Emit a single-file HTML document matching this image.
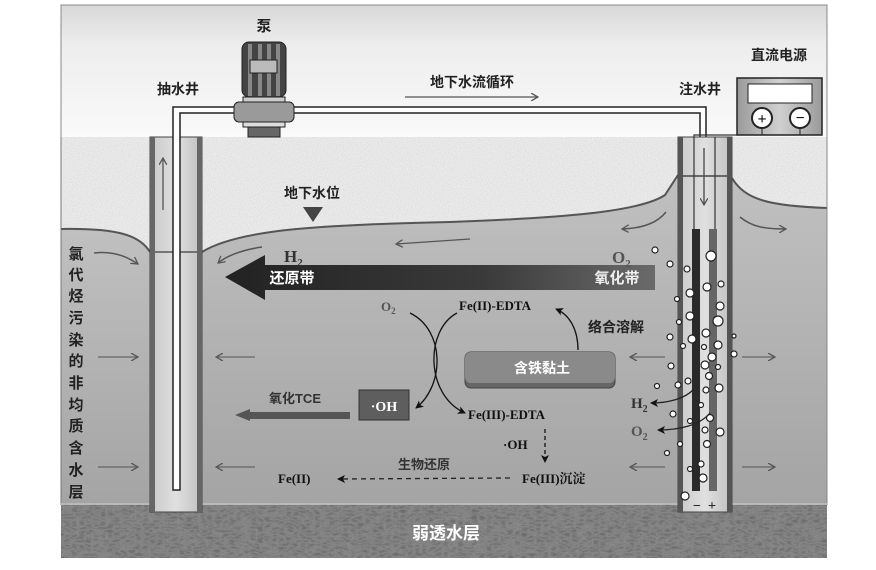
<!DOCTYPE html>
<html><head><meta charset="utf-8"><style>
html,body{margin:0;padding:0;background:#fff;}
svg{display:block;}
text{font-family:"Liberation Serif","Noto Serif CJK SC","Noto Sans CJK SC",serif;font-weight:bold;}
.cjk{font-family:"Liberation Sans","Noto Sans CJK SC",sans-serif;}
</style></head><body>
<svg width="876" height="570" viewBox="0 0 876 570" xmlns="http://www.w3.org/2000/svg">
<defs>
<linearGradient id="sky" x1="0" y1="0" x2="0" y2="1"><stop offset="0" stop-color="#d8d8d8"/><stop offset="0.3" stop-color="#ededed"/><stop offset="1" stop-color="#fafafa"/></linearGradient>
<linearGradient id="sat" x1="0" y1="0" x2="0" y2="1"><stop offset="0" stop-color="#c0c0c0"/><stop offset="1" stop-color="#a4a4a4"/></linearGradient>
<linearGradient id="arrow" x1="0" y1="0" x2="1" y2="0"><stop offset="0" stop-color="#222"/><stop offset="0.6" stop-color="#3a3a3a"/><stop offset="1" stop-color="#6a6a6a"/></linearGradient>
<linearGradient id="well" x1="0" y1="0" x2="1" y2="0"><stop offset="0" stop-color="#c8c8c8"/><stop offset="0.5" stop-color="#e0e0e0"/><stop offset="1" stop-color="#c0c0c0"/></linearGradient>
<linearGradient id="psu" x1="0" y1="0" x2="1" y2="0"><stop offset="0" stop-color="#9a9a9a"/><stop offset="0.5" stop-color="#d0d0d0"/><stop offset="1" stop-color="#9a9a9a"/></linearGradient>
<filter id="speck" x="0" y="0" width="100%" height="100%"><feTurbulence type="fractalNoise" baseFrequency="1.2" numOctaves="1" seed="3"/><feColorMatrix values="0.35 0 0 0 0.62 0.35 0 0 0 0.62 0.35 0 0 0 0.62 0 0 0 0 1"/><feComposite in2="SourceGraphic" operator="in"/></filter>
<filter id="rock" x="0" y="0" width="100%" height="100%"><feTurbulence type="turbulence" baseFrequency="0.14 0.3" numOctaves="3" seed="7"/><feColorMatrix values="0 0 0 0 0.15 0 0 0 0 0.15 0 0 0 0 0.15 1.4 0 0 0 0"/><feComposite in2="SourceGraphic" operator="in"/></filter>
<marker id="ah" markerWidth="8" markerHeight="8" refX="7" refY="4" orient="auto" markerUnits="userSpaceOnUse"><path d="M0,0 L7,4 L0,8" fill="none" stroke="#555" stroke-width="1.3"/></marker>
<marker id="ahk" markerWidth="8" markerHeight="8" refX="7" refY="4" orient="auto" markerUnits="userSpaceOnUse"><path d="M0,0 L8,4 L0,8 L2,4z" fill="#111"/></marker>
</defs>

<rect x="60" y="5" width="768" height="555" fill="#fff"/>
<rect x="61" y="5" width="766" height="133" fill="url(#sky)" stroke="#888" stroke-width="1"/>
<rect x="61" y="137" width="766" height="368" fill="#ccc" filter="url(#speck)"/>
<path d="M61,229 C120,228 140,236 150,252 L150,505 L61,505Z" fill="url(#sat)"/>
<path d="M202,252 C240,228 330,225 450,222 C560,218 640,212 665,195 L678,175 L678,505 L202,505Z" fill="url(#sat)"/>
<path d="M732,178 C745,200 770,206 827,208 L827,505 L732,505Z" fill="url(#sat)"/>
<path d="M61,229 C120,228 140,236 150,252" fill="none" stroke="#555" stroke-width="2"/>
<path d="M202,252 C240,228 330,225 450,222 C560,218 640,212 665,195 L678,175" fill="none" stroke="#555" stroke-width="2"/>
<path d="M732,178 C745,200 770,206 827,208" fill="none" stroke="#555" stroke-width="2"/>
<line x1="61" y1="137" x2="61" y2="505" stroke="#777"/><line x1="827" y1="137" x2="827" y2="505" stroke="#888"/>
<rect x="61" y="503" width="766" height="55" fill="#8c8c8c"/>
<rect x="61" y="503" width="766" height="55" fill="#888" filter="url(#rock)"/>
<line x1="61" y1="504" x2="827" y2="504" stroke="#ccc" stroke-width="1.5"/>
<text x="446" y="539" class="cjk" font-size="17" fill="#fff" text-anchor="middle">弱透水层</text>

<rect x="150" y="137" width="52" height="375" fill="url(#well)" stroke="#444" stroke-width="1"/>
<rect x="150" y="137" width="5" height="375" fill="#666"/>
<rect x="197" y="137" width="5" height="375" fill="#666"/>
<line x1="155" y1="252" x2="197" y2="252" stroke="#555" stroke-width="1.5"/>
<line x1="163" y1="210" x2="163" y2="158" stroke="#555" stroke-width="1.3" marker-end="url(#ah)"/>
<path d="M173,490 L173,107 L706,107 L706,142 L700,142 L700,113 L180,113 L180,490Z" fill="#fff" stroke="#222" stroke-width="1.5"/>

<text x="264" y="31" class="cjk" font-size="15" fill="#222" text-anchor="middle">泵</text>
<rect x="242" y="42" width="44" height="55" rx="7" fill="#444" stroke="#222"/>
<rect x="248" y="44" width="4" height="52" fill="#888"/><rect x="258" y="44" width="4" height="52" fill="#888"/><rect x="267" y="44" width="4" height="52" fill="#888"/><rect x="276" y="44" width="4" height="52" fill="#888"/>
<rect x="250" y="60" width="27" height="13" fill="#bbb" stroke="#222"/>
<rect x="243" y="97" width="42" height="5" fill="#ccc" stroke="#222"/>
<rect x="234" y="102" width="60" height="20" rx="5" fill="#9a9a9a" stroke="#222"/>
<rect x="243" y="122" width="42" height="5" fill="#ddd" stroke="#222"/>
<rect x="248" y="127" width="32" height="10" fill="#666" stroke="#222"/>

<text x="178" y="94" class="cjk" font-size="14" fill="#222" text-anchor="middle">抽水井</text>
<text x="472" y="87" class="cjk" font-size="14" fill="#222" text-anchor="middle">地下水流循环</text>
<line x1="405" y1="97" x2="538" y2="97" stroke="#555" stroke-width="1.3" marker-end="url(#ah)"/>
<text x="700" y="94" class="cjk" font-size="14" fill="#222" text-anchor="middle">注水井</text>
<text x="779" y="60" class="cjk" font-size="14" fill="#222" text-anchor="middle">直流电源</text>

<rect x="737" y="78" width="85" height="57" fill="url(#psu)" stroke="#222" stroke-width="1.5"/>
<rect x="748" y="84" width="64" height="19" fill="#fff" stroke="#222"/>
<circle cx="762" cy="118" r="10" fill="#fff" stroke="#222" stroke-width="2"/><text x="762" y="124" font-size="16" text-anchor="middle" fill="#111">+</text>
<circle cx="800" cy="118" r="10" fill="#fff" stroke="#222" stroke-width="2"/><text x="800" y="123" font-size="16" text-anchor="middle" fill="#111">−</text>
<line x1="762" y1="128" x2="762" y2="135" stroke="#222"/><line x1="800" y1="128" x2="800" y2="135" stroke="#222"/>

<rect x="678" y="137" width="54" height="375" fill="url(#well)" stroke="#444" stroke-width="1"/>
<rect x="678" y="137" width="5" height="375" fill="#555"/>
<rect x="727" y="137" width="5" height="375" fill="#555"/>
<line x1="683" y1="176" x2="727" y2="176" stroke="#444" stroke-width="1.5"/>
<path d="M694,229 L694,135 L737,135" fill="none" stroke="#333" stroke-width="1.2"/>
<line x1="715" y1="229" x2="715" y2="137" stroke="#333" stroke-width="1.2"/>
<line x1="704" y1="148" x2="704" y2="205" stroke="#444" stroke-width="1.3" marker-end="url(#ah)"/>
<rect x="692" y="229" width="8" height="262" fill="#2a2a2a"/>
<rect x="709" y="229" width="8" height="262" fill="#666"/>
<text x="697" y="510" font-size="14" fill="#222" text-anchor="middle">−</text>
<text x="712" y="510" font-size="14" fill="#222" text-anchor="middle">+</text>
<g fill="#fff" stroke="#222" stroke-width="1.2">
<circle cx="655" cy="250" r="3"/><circle cx="670" cy="264" r="3"/><circle cx="687" cy="269" r="3"/><circle cx="711" cy="256" r="5"/>
<circle cx="690" cy="293" r="4"/><circle cx="707" cy="287" r="4"/><circle cx="721" cy="284" r="3"/><circle cx="677" cy="299" r="2.5"/>
<circle cx="690" cy="316" r="4"/><circle cx="720" cy="306" r="4"/><circle cx="718" cy="321" r="5"/><circle cx="679" cy="322" r="2.5"/>
<circle cx="706" cy="333" r="4"/><circle cx="692" cy="339" r="4"/><circle cx="670" cy="337" r="3"/><circle cx="683" cy="346" r="2.5"/>
<circle cx="718" cy="345" r="4"/><circle cx="704" cy="347" r="2.5"/><circle cx="734" cy="354" r="3"/><circle cx="712" cy="357" r="4"/>
<circle cx="705" cy="365" r="4"/><circle cx="718" cy="367" r="2.5"/><circle cx="671" cy="366" r="3"/><circle cx="709" cy="376" r="3.5"/>
<circle cx="688" cy="381" r="3"/><circle cx="678" cy="385" r="3"/><circle cx="657" cy="386" r="2.5"/><circle cx="719" cy="388" r="4"/>
<circle cx="706" cy="390" r="3"/><circle cx="701" cy="405" r="2.5"/><circle cx="673" cy="414" r="3"/><circle cx="690" cy="421" r="2.5"/>
<circle cx="710" cy="418" r="3.5"/><circle cx="705" cy="430" r="3"/><circle cx="720" cy="432" r="4"/><circle cx="680" cy="444" r="2.5"/>
<circle cx="707" cy="444" r="3.5"/><circle cx="667" cy="453" r="2.5"/><circle cx="701" cy="464" r="3"/><circle cx="690" cy="469" r="2.5"/>
<circle cx="703" cy="478" r="4"/><circle cx="685" cy="496" r="4"/><circle cx="734" cy="336" r="2"/>
</g>
<path d="M693,390 C685,398 670,403 651,403" fill="none" stroke="#222" stroke-width="1.3" marker-end="url(#ahk)"/>
<path d="M710,413 C700,425 680,430 658,430" fill="none" stroke="#222" stroke-width="1.3" marker-end="url(#ahk)"/>
<text x="631" y="408" font-size="15" fill="#333">H<tspan font-size="10" dy="4">2</tspan></text>
<text x="631" y="436" font-size="15" fill="#555">O<tspan font-size="10" dy="4">2</tspan></text>

<text x="312" y="198" class="cjk" font-size="14" fill="#222" text-anchor="middle">地下水位</text>
<path d="M303,207 L323,207 L313,222Z" fill="#444"/>

<path d="M94,253 C110,251 125,255 138,264" fill="none" stroke="#555" stroke-width="1.5" marker-end="url(#ah)"/>
<path d="M262,247 C242,250 228,255 218,263" fill="none" stroke="#555" stroke-width="1.5" marker-end="url(#ah)"/>
<line x1="470" y1="239" x2="396" y2="244" stroke="#555" stroke-width="1.3" marker-end="url(#ah)"/>
<path d="M666,212 C658,222 645,228 622,229" fill="none" stroke="#555" stroke-width="1.5" marker-end="url(#ah)"/>
<path d="M740,217 C752,227 765,229 786,229" fill="none" stroke="#555" stroke-width="1.5" marker-end="url(#ah)"/>
<g stroke="#666" stroke-width="1.3" fill="none">
<line x1="98" y1="357" x2="138" y2="357" marker-end="url(#ah)"/><line x1="98" y1="467" x2="138" y2="467" marker-end="url(#ah)"/>
<line x1="255" y1="357" x2="216" y2="357" marker-end="url(#ah)"/><line x1="255" y1="467" x2="216" y2="467" marker-end="url(#ah)"/>
<line x1="665" y1="357" x2="630" y2="357" marker-end="url(#ah)"/><line x1="665" y1="467" x2="630" y2="467" marker-end="url(#ah)"/>
<line x1="742" y1="357" x2="775" y2="357" marker-end="url(#ah)"/><line x1="742" y1="467" x2="775" y2="467" marker-end="url(#ah)"/>
</g>

<g font-size="15" fill="#222" text-anchor="middle">
<text x="76" y="259" class="cjk">氯</text><text x="76" y="280" class="cjk">代</text><text x="76" y="301" class="cjk">烃</text><text x="76" y="323" class="cjk">污</text><text x="76" y="345" class="cjk">染</text><text x="76" y="366" class="cjk">的</text><text x="76" y="388" class="cjk">非</text><text x="76" y="410" class="cjk">均</text><text x="76" y="431" class="cjk">质</text><text x="76" y="453" class="cjk">含</text><text x="76" y="475" class="cjk">水</text><text x="76" y="497" class="cjk">层</text>
</g>

<path d="M225,277 L265,255 L265,265 L655,265 L655,290 L265,290 L265,300Z" fill="url(#arrow)"/>
<text x="292" y="283" class="cjk" font-size="15" fill="#fff" font-weight="normal" text-anchor="middle">还原带</text>
<text x="617" y="283" class="cjk" font-size="15" fill="#eee" font-weight="normal" text-anchor="middle">氧化带</text>
<text x="284" y="262" font-size="17" fill="#333">H<tspan font-size="11" dy="4">2</tspan></text>
<text x="612" y="263" font-size="17" fill="#555">O<tspan font-size="11" dy="4">2</tspan></text>

<text x="381" y="311" font-size="13" fill="#555">O<tspan font-size="9" dy="3">2</tspan></text>
<text x="459" y="310" font-size="13" fill="#111">Fe(II)-EDTA</text>
<text x="588" y="332" class="cjk" font-size="14" fill="#222" font-weight="normal">络合溶解</text>
<path d="M410,313 C445,330 445,385 416,408" fill="none" stroke="#111" stroke-width="1.3" marker-end="url(#ahk)"/>
<path d="M457,313 C425,330 425,395 465,413" fill="none" stroke="#111" stroke-width="1.3" marker-end="url(#ahk)"/>
<path d="M578,350 C578,330 570,315 556,309" fill="none" stroke="#111" stroke-width="1.3" marker-end="url(#ahk)"/>
<rect x="465" y="352" width="150" height="36" rx="6" fill="#666" stroke="#444"/>
<rect x="465" y="352" width="150" height="31" rx="6" fill="#8a8a8a"/>
<text x="542" y="373" class="cjk" font-size="14" fill="#fff" font-weight="normal" text-anchor="middle">含铁黏土</text>
<rect x="359" y="390" width="50" height="30" fill="#5e5e5e" stroke="#333"/>
<text x="384" y="411" font-size="14" fill="#fff" text-anchor="middle">·OH</text>
<text x="295" y="403" class="cjk" font-size="13" fill="#333" text-anchor="middle" font-weight="normal">氧化TCE</text>
<path d="M235,415 L250,409 L250,412 L350,412 L350,419 L250,419 L250,421Z" fill="#555"/>
<text x="468" y="419" font-size="13" fill="#111">Fe(III)-EDTA</text>
<line x1="545" y1="429" x2="545" y2="462" stroke="#111" stroke-width="1.3" stroke-dasharray="4,3" marker-end="url(#ahk)"/>
<text x="503" y="449" font-size="13" fill="#111">·OH</text>
<text x="424" y="469" class="cjk" font-size="13" fill="#333" font-weight="normal" text-anchor="middle">生物还原</text>
<line x1="510" y1="478" x2="338" y2="479" stroke="#222" stroke-width="1.3" stroke-dasharray="5,4" marker-end="url(#ahk)"/>
<text x="278" y="483" font-size="13" fill="#111">Fe(II)</text>
<text x="522" y="483" font-size="13" fill="#111">Fe(III)沉淀</text>
</svg>
</body></html>
